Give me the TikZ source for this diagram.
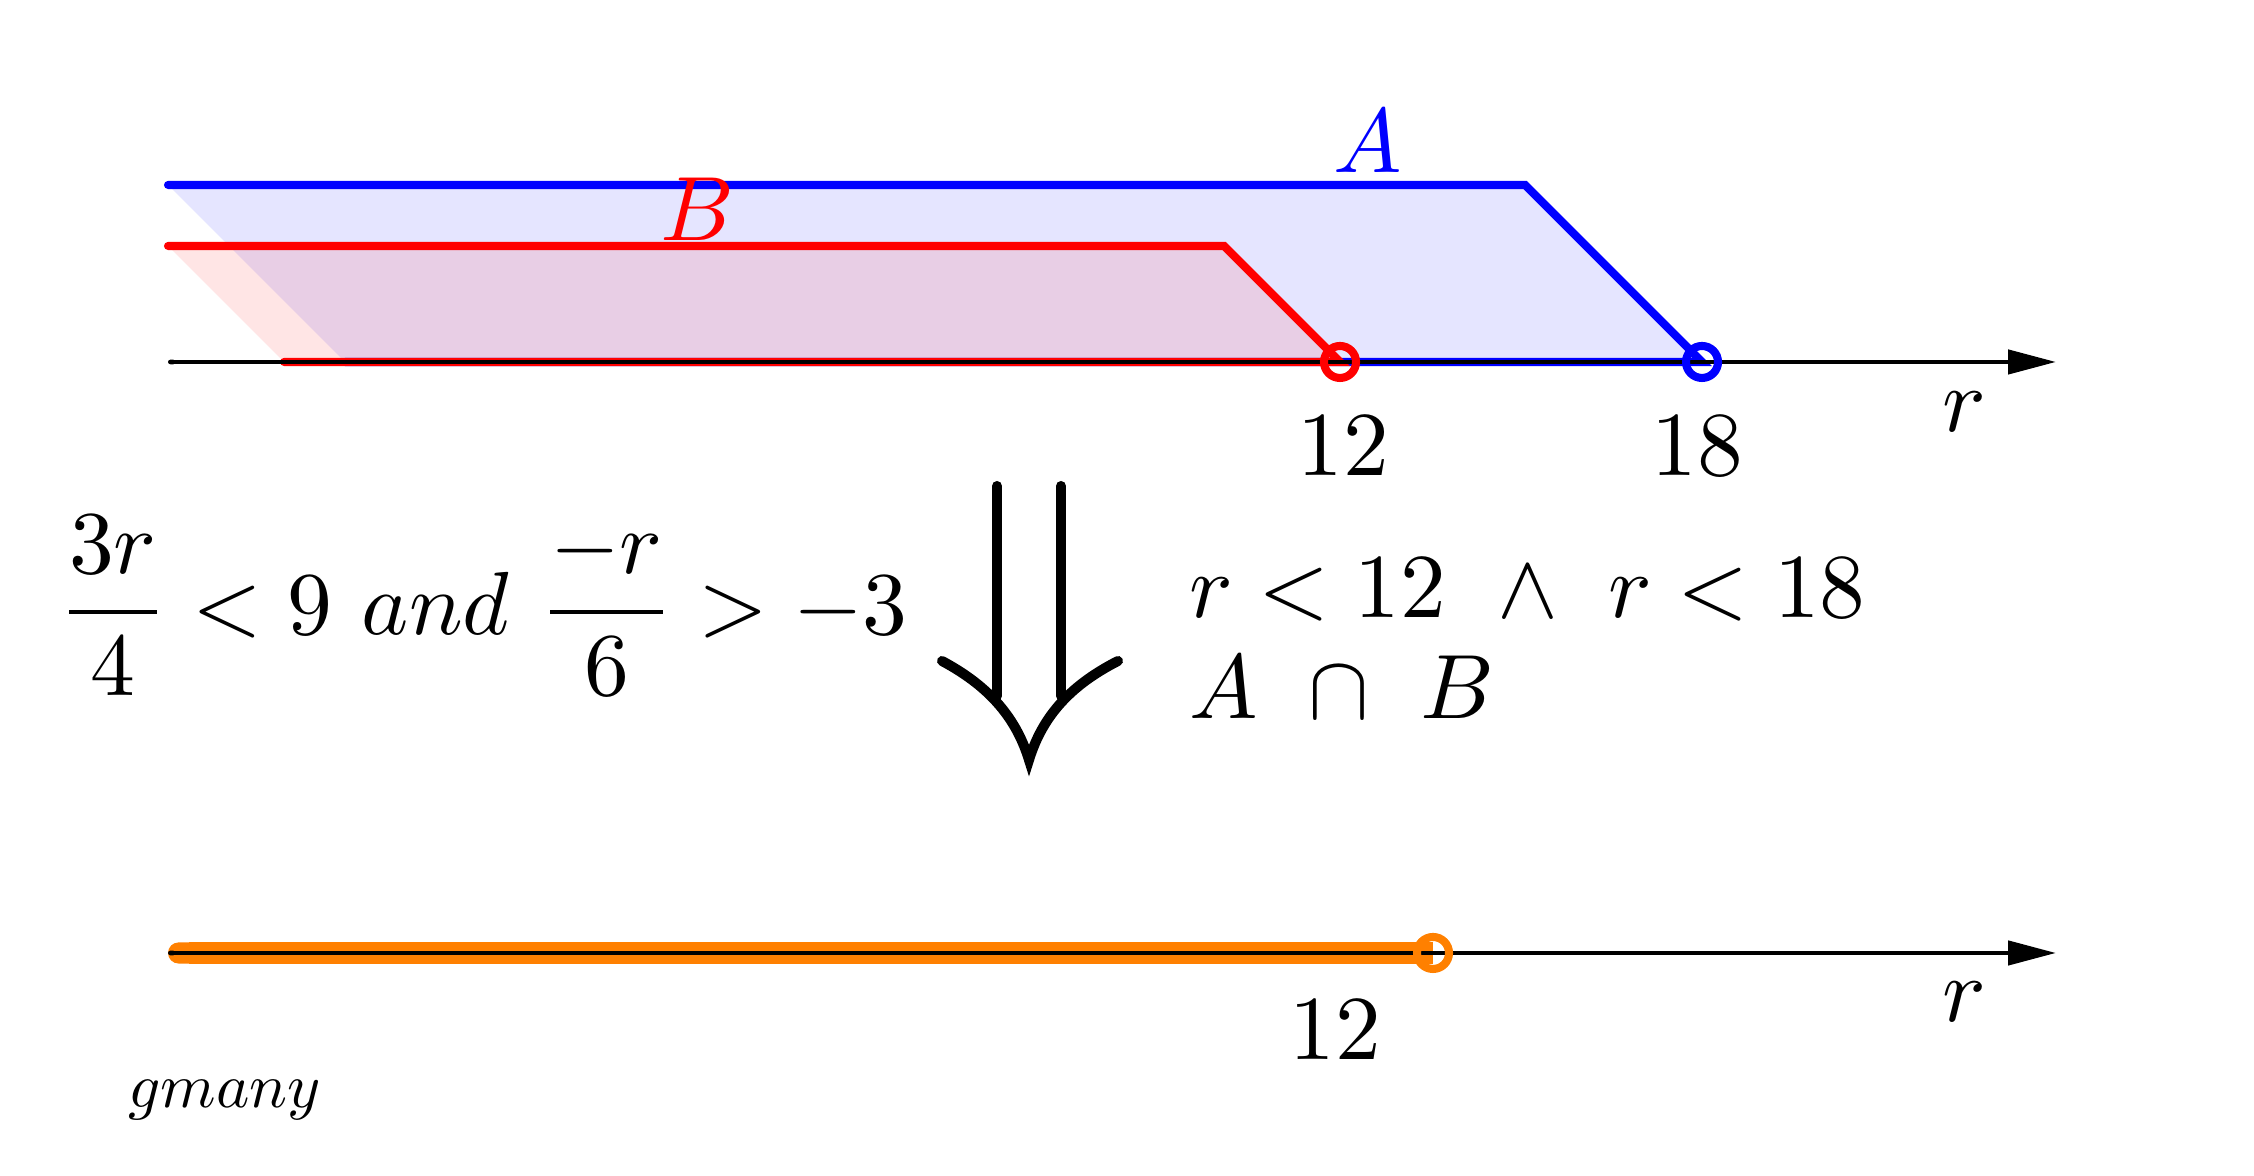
\documentclass[tikz,border=0pt]{standalone}
\usepackage{amsmath}
\usepackage{tikz}
\usetikzlibrary{arrows.meta}

\begin{document}
\begin{tikzpicture}[
    every node/.style={scale=2.6},
    axis/.style={line width=1.3pt,{Round Cap[]}-{Triangle[length=4.8mm,width=2.4mm]}},
    setline/.style={line width=2.3pt,line cap=round},
    hole/.style={line width=2.3pt}
  ]
  \useasboundingbox (0,0) rectangle (22.54,11.76);
  % top: the two sets
  \begin{scope}[shift={(0,0)}]
    \fill[blue,fill opacity=.1](1.68,9.91)--(15.25,9.91)--(17.02,8.14)--(3.45,8.14)--cycle;
    \draw[setline,blue](1.68,9.91)--(15.25,9.91)--(17.02,8.14)--(3.45,8.14);
    \fill[red,fill opacity=.1](1.68,9.30)--(12.24,9.30)--(13.40,8.14)--(2.84,8.14)--cycle;
    \draw[setline,red](1.68,9.30)--(12.24,9.30)--(13.40,8.14)--(2.84,8.14);
    \draw[axis](1.68,8.14)--(20.56,8.14);
    \draw[hole,red](13.40,8.14)circle(.16);
    \draw[hole,blue](17.02,8.14)circle(.16);
    \node[blue] (setA) at (13.68,10.35) {$A$};
    \node[red] (setB) at (6.97,9.67) {$B$};
    \foreach \x/\t in {13.43/12,16.97/18}{
      \node (top\t) at (\x,7.30) {$\t$};
    }
    \node (rtop) at (19.64,7.64) {$r$};
  \end{scope}
  % middle
  \node[scale=2.55/2.6] (ineq) at (4.83,5.70) {$\dfrac{3r}{4}<9\ and\ \dfrac{-r}{6}>-3$};
  \draw[line width=2.85pt,line cap=round](9.97,6.90)--(9.97,4.80) (10.61,6.90)--(10.61,4.80);
  \draw[line width=2.85pt,line cap=round,line join=miter]
    (9.42,5.15) .. controls (9.85,4.92) and (10.15,4.62) .. (10.29,4.16)
    .. controls (10.43,4.62) and (10.73,4.92) .. (11.18,5.15);
  \node[anchor=base west] (both) at (11.57,5.58) {$r<12\ \wedge\ r<18$};
  \node[anchor=base west] (meet) at (11.57,4.57) {$A\ \cap\ B$};
  % bottom: the solution
  \draw[orange,line width=6pt,{Round Cap[]}-](1.68,2.23)--(14.33,2.23);
  \draw[axis](1.68,2.23)--(20.56,2.23);
  \draw[hole,orange](14.33,2.23)circle(.16);
  \node (bot12) at (13.35,1.46) {$12$};
  \node (rbot) at (19.64,1.74) {$r$};
  \node[anchor=base west,scale=1.8/2.6] (sign) at (1.06,0.68) {$gmany$};
\end{tikzpicture}
\end{document}
